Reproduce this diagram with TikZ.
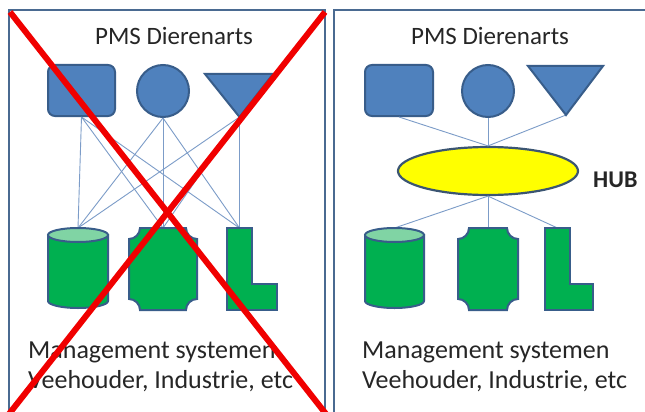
\documentclass[tikz,border=0pt]{standalone}
\usepackage{fontspec}
\setmainfont{Carlito}
\usetikzlibrary{shapes.geometric}
\definecolor{shapeblue}{HTML}{4F81BD}
\definecolor{edgeblue}{HTML}{385D8A}
\definecolor{shapegreen}{HTML}{00B050}
\definecolor{lightgreen}{HTML}{80D4A4}
\definecolor{panelline}{HTML}{4A6A91}
\definecolor{linkblue}{HTML}{7C9CC8}
\definecolor{hubyellow}{HTML}{FFFF00}
\definecolor{hubedge}{HTML}{3B5572}
\definecolor{crossred}{HTML}{F00000}
\tikzset{
  panel/.style={draw=panelline, line width=2pt},
  blueshape/.style={fill=shapeblue, draw=edgeblue, line width=2pt},
  greenshape/.style={fill=shapegreen, draw=edgeblue, line width=2pt},
  link/.style={draw=linkblue, line width=0.9pt},
  crossline/.style={draw=crossred, line width=6pt},
  txt/.style={font=\fontsize{25}{30}\selectfont, inner sep=0pt, text=black!85},
  bigtxt/.style={font=\fontsize{26}{30}\selectfont, inner sep=0pt, text=black!85},
}
\begin{document}
\begin{tikzpicture}[x=1pt,y=-1pt]
\useasboundingbox (0,0) rectangle (645,412);
\clip (0,0) rectangle (645,412);
\fill[white] (0,0) rectangle (645,412);

% panels
\draw[panel] (9,10) rectangle (325,440);
\draw[panel] (334,10) rectangle (670,440);

% ---------- left panel ----------
\node[txt, anchor=base] (ltitle) at (174,45) {PMS Dierenarts};
\coordinate (ltri) at (239.5,117);
\coordinate (lcyl) at (78,228);
\coordinate (lplq) at (163,228);
\coordinate (lL) at (239.5,228);
\node[blueshape, rounded corners=7pt, minimum width=67pt, minimum height=51pt, inner sep=0pt] (lrect) at (81.5,90.5) {};
\node[blueshape, circle, minimum size=52pt, inner sep=0pt] (lcirc) at (163,91) {};

\foreach \s in {lrect.south, lcirc.south, ltri}
  \foreach \t in {lcyl, lplq, lL}
    \draw[link] (\s) -- (\t);

\draw[blueshape] (205,74) -- (273,74) -- (ltri) -- cycle;

% cylinder
\filldraw[greenshape] (48,235) -- (48,301) arc[start angle=180, end angle=360, x radius=30pt, y radius=7pt] -- (108,235) -- cycle;
\filldraw[greenshape, fill=lightgreen] (78,235) ellipse[x radius=30pt, y radius=7pt];
% plaque
\filldraw[greenshape] (140,228) -- (186,228) .. controls (186,234) and (191,239) .. (197,239)
  -- (197,299) .. controls (191,299) and (186,304) .. (186,310)
  -- (140,310) .. controls (140,304) and (135,299) .. (129,299)
  -- (129,239) .. controls (135,239) and (140,234) .. (140,228) -- cycle;
% L
\filldraw[greenshape] (227,228) -- (252,228) -- (252,284) -- (277,284) -- (277,310) -- (227,310) -- cycle;

\node[bigtxt, anchor=base west] (lmgmt) at (28,358) {Management systemen};
\node[bigtxt, anchor=base west] (lvee) at (28,388) {Veehouder, Industrie, etc};

% red cross
\coordinate (xa) at (10,12);
\coordinate (xb) at (326,414);
\coordinate (xc) at (325,12);
\coordinate (xd) at (9,414);
\draw[crossline] (xa) -- (xb);
\draw[crossline] (xc) -- (xd);

% ---------- right panel ----------
\node[txt, anchor=base] (rtitle) at (490,45) {PMS Dierenarts};
\coordinate (rtri) at (566,115);
\coordinate (rcyl) at (394.5,228);
\coordinate (rplq) at (488,228);
\coordinate (rL) at (557.5,228);
\node[blueshape, rounded corners=7pt, minimum width=68pt, minimum height=51pt, inner sep=0pt] (rrect) at (399,90.5) {};
\node[blueshape, circle, minimum size=52pt, inner sep=0pt] (rcirc) at (488,91) {};
\node[ellipse, fill=hubyellow, draw=hubedge, line width=2.2pt, minimum width=180pt, minimum height=48pt, inner sep=0pt] (hub) at (488,171) {};
\node[font=\fontsize{24}{28}\selectfont\bfseries, inner sep=0pt, anchor=base west, text=black!85] (hublabel) at (593,187) {HUB};

\draw[link] (rrect.south) -- (hub.north);
\draw[link] (rcirc.south) -- (hub.north);
\draw[link] (rtri) -- (hub.north);
\draw[link] (hub.south) -- (rcyl);
\draw[link] (hub.south) -- (rplq);
\draw[link] (hub.south) -- (rL);

\draw[blueshape] (528,66) -- (603,66) -- (rtri) -- cycle;

% cylinder
\filldraw[greenshape] (365,235) -- (365,301) arc[start angle=180, end angle=360, x radius=29.5pt, y radius=7pt] -- (424,235) -- cycle;
\filldraw[greenshape, fill=lightgreen] (394.5,235) ellipse[x radius=29.5pt, y radius=7pt];
% plaque
\filldraw[greenshape] (469,228) -- (507,228) .. controls (507,234) and (512,239) .. (518,239)
  -- (518,299) .. controls (512,299) and (507,304) .. (507,310)
  -- (469,310) .. controls (469,304) and (464,299) .. (458,299)
  -- (458,239) .. controls (464,239) and (469,234) .. (469,228) -- cycle;
% L
\filldraw[greenshape] (545,228) -- (570,228) -- (570,284) -- (593,284) -- (593,310) -- (545,310) -- cycle;

\node[bigtxt, anchor=base west] (rmgmt) at (362,358) {Management systemen};
\node[bigtxt, anchor=base west] (rvee) at (362,388) {Veehouder, Industrie, etc};
\end{tikzpicture}
\end{document}
